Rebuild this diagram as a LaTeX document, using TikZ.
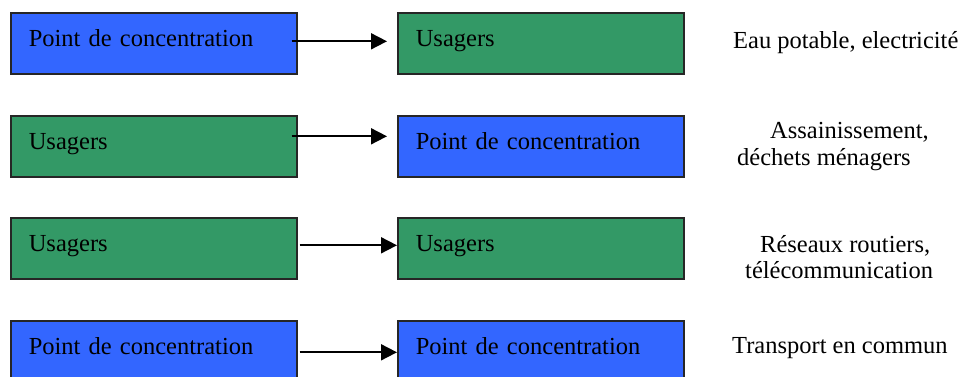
\documentclass[tikz,border=0pt]{standalone}
\usepackage{fontspec}
\setmainfont{Liberation Serif}
\usetikzlibrary{arrows.meta}
\definecolor{boxblue}{RGB}{51,102,255}
\definecolor{boxgreen}{RGB}{51,153,102}
\begin{document}
\begin{tikzpicture}[x=1pt,y=-1pt,
  box/.style={draw=black!85, line width=1.6pt, anchor=north west, inner xsep=18pt, inner ysep=0pt,
    text width=250pt, align=left, text height=34pt, text depth=27pt,
    font=\fontsize{24.5}{29}\selectfont},
  pcbox/.style={box, fill=boxblue},
  usbox/.style={box, fill=boxgreen},
  lab/.style={anchor=base west, inner sep=0pt, font=\fontsize{24.5}{29}\selectfont},
  arr/.style={-{Triangle[length=16pt,width=16pt]}, line width=1.8pt}
]
\useasboundingbox (0,0) rectangle (961,376);
\clip (0,0) rectangle (961,376);
\fill[white] (0,0) rectangle (961,376);

% row 1
\node[pcbox] (L1) at (10,12) {Point de concentration};
\node[usbox] (R1) at (397,12) {Usagers};
\node[lab] (T1) at (733,48) {Eau potable, electricité};
\draw[arr] ([xshift=-6pt,yshift=2pt]L1.east) -- ([xshift=-10pt,yshift=2pt]R1.west);

% row 2
\node[usbox] (L2) at (10,115) {Usagers};
\node[pcbox] (R2) at (397,115) {Point de concentration};
\node[lab] (T2a) at (770,138) {Assainissement,};
\node[lab] (T2b) at (737,165) {déchets ménagers};
\draw[arr] ([xshift=-6pt,yshift=10pt]L2.east) -- ([xshift=-10pt,yshift=10pt]R2.west);

% row 3
\node[usbox] (L3) at (10,217) {Usagers};
\node[usbox] (R3) at (397,217) {Usagers};
\node[lab] (T3a) at (760,252) {Réseaux routiers,};
\node[lab] (T3b) at (745,278) {télécommunication};
\draw[arr] ([xshift=2pt,yshift=3pt]L3.east) -- ([yshift=3pt]R3.west);

% row 4
\node[pcbox] (L4) at (10,320) {Point de concentration};
\node[pcbox] (R4) at (397,320) {Point de concentration};
\node[lab] (T4) at (732,353) {Transport en commun};
\draw[arr] ([xshift=2pt,yshift=-1pt]L4.east) -- ([yshift=-1pt]R4.west);
\end{tikzpicture}
\end{document}
